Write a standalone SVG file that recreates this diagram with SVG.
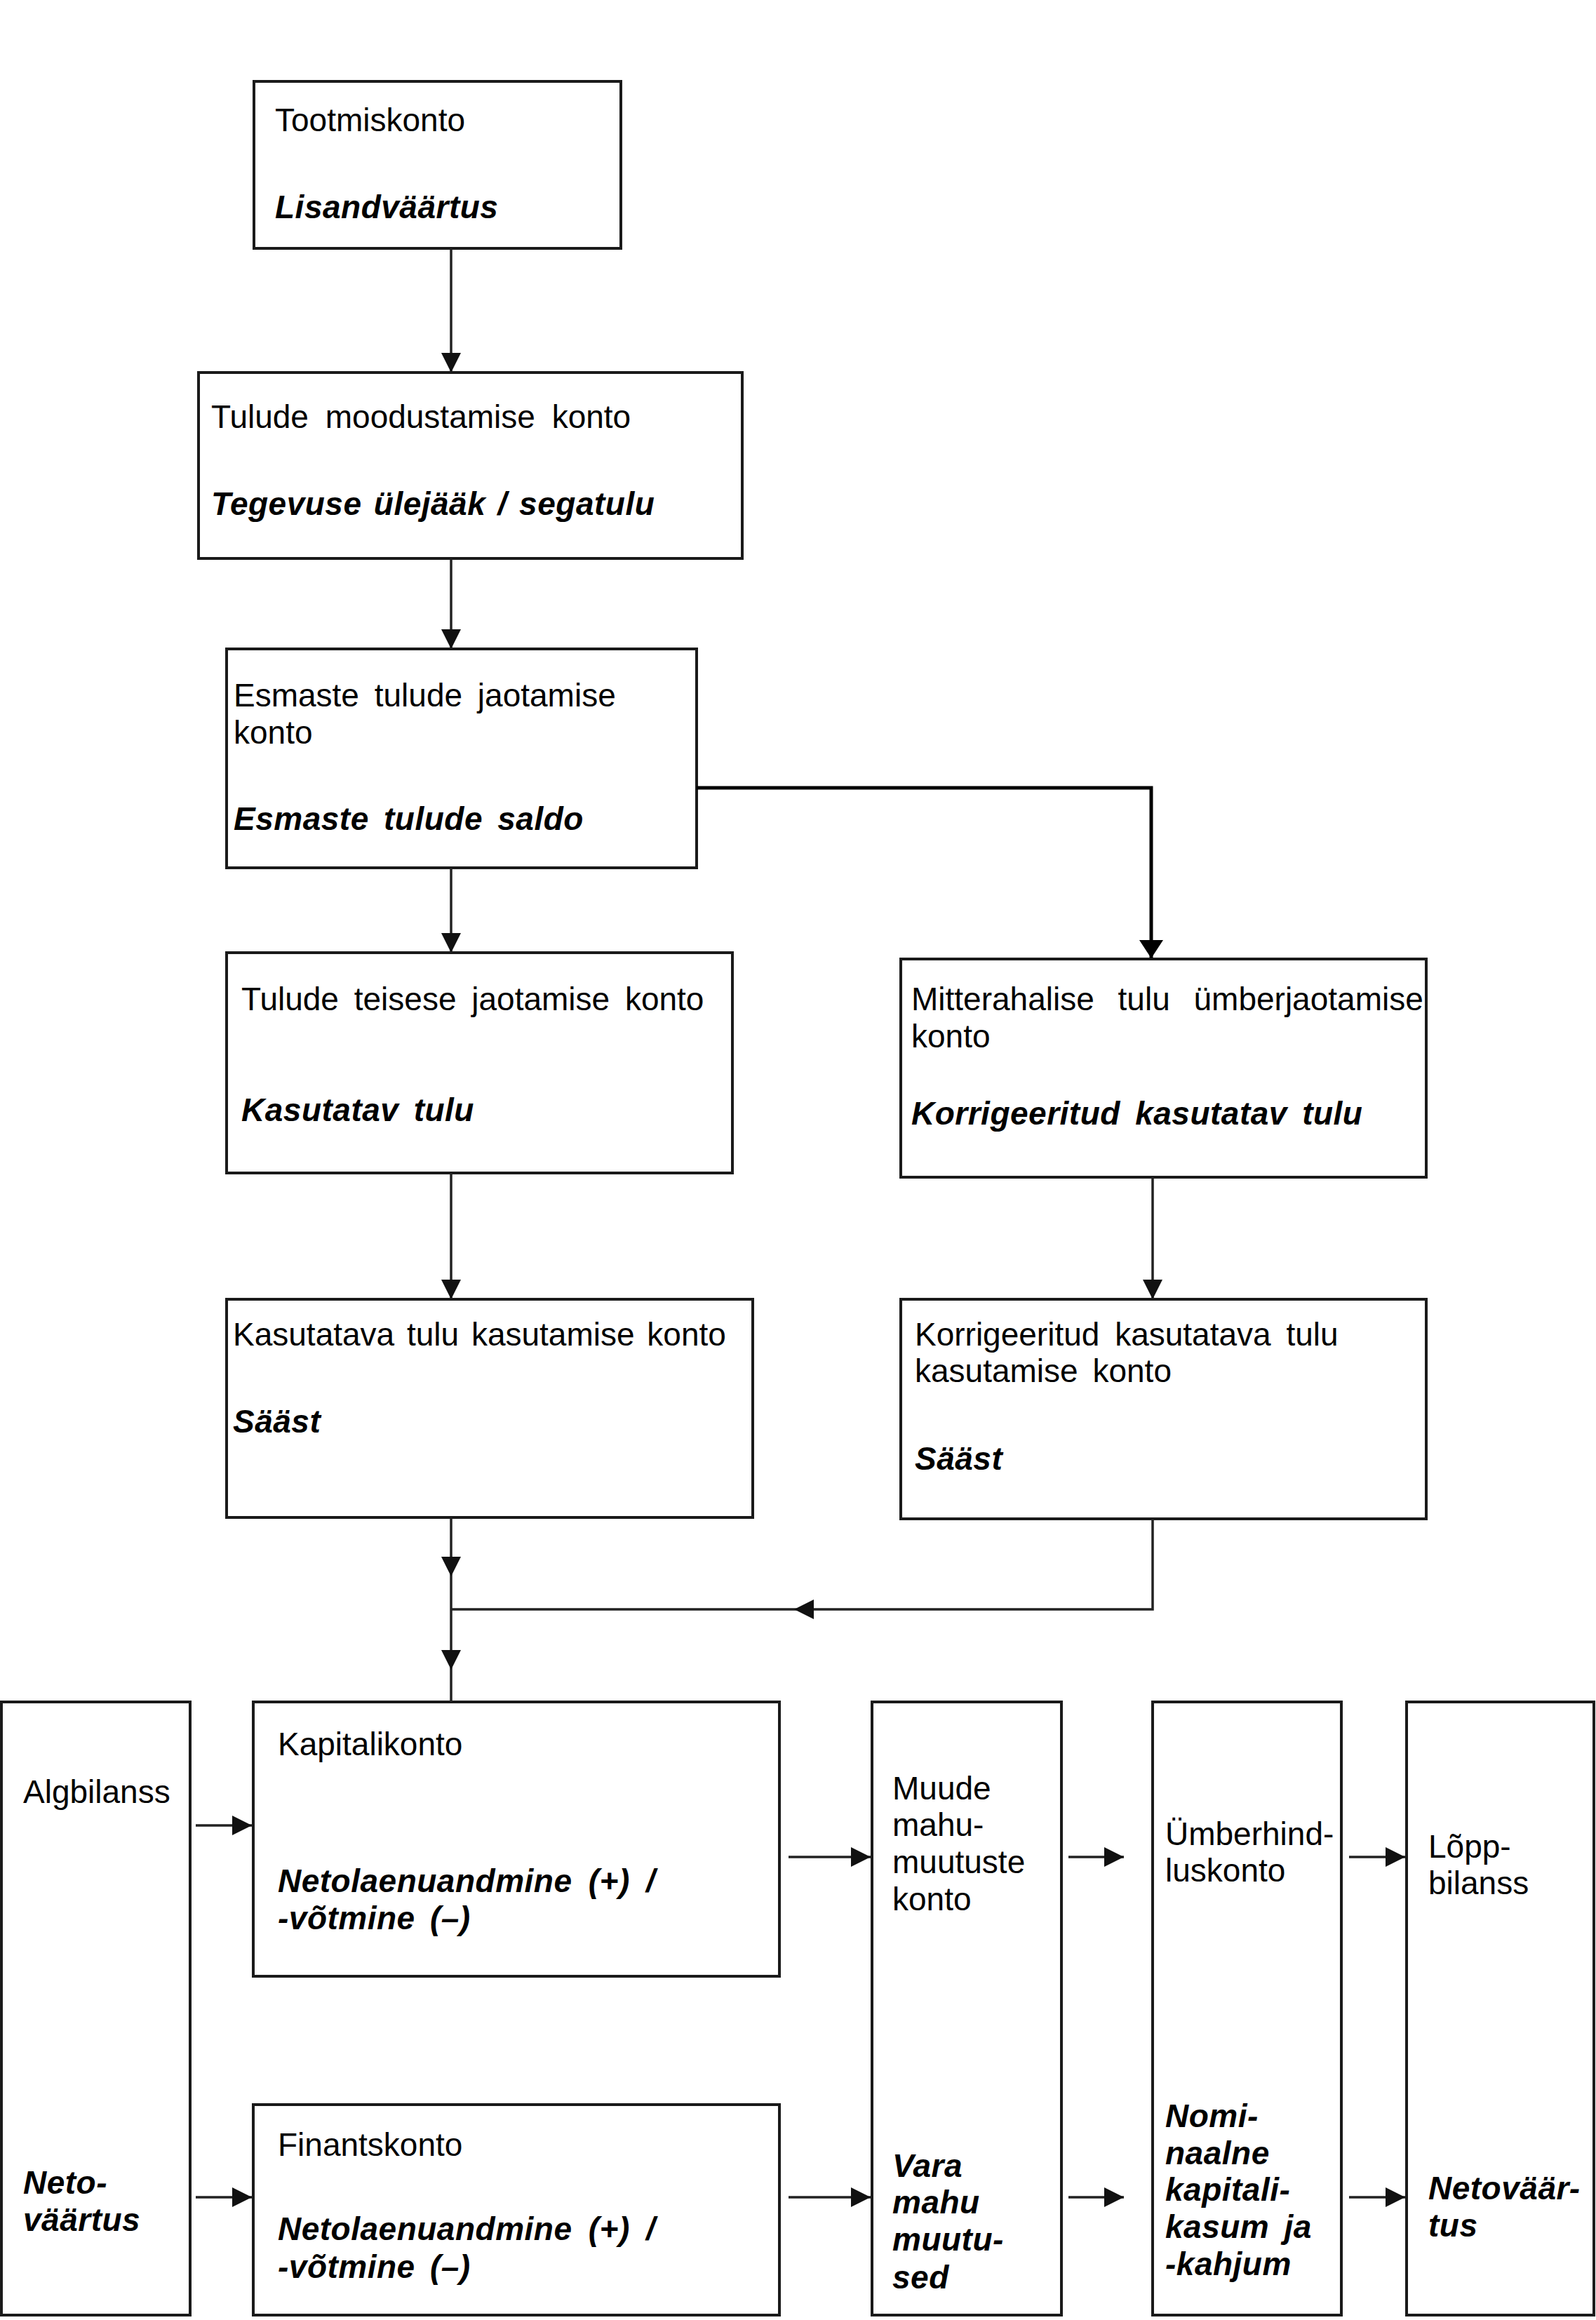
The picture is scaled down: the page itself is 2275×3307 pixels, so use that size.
<svg xmlns="http://www.w3.org/2000/svg" width="2275" height="3307" viewBox="0 0 2275 3307">
<style>
.box{fill:#fff;stroke:#1a1a1a;stroke-width:4}
.t{font-family:"Liberation Sans",Arial,sans-serif;font-size:46px;fill:#000}
.b{font-weight:bold;font-style:italic;letter-spacing:0.5px}
.c{fill:none;stroke:#222;stroke-width:3.5}
.cs{fill:none;stroke:#000;stroke-width:5}
</style>
<defs>
<marker id="ah" markerUnits="userSpaceOnUse" markerWidth="32" markerHeight="30" refX="28" refY="14" orient="auto">
<path d="M0,0 L28,14 L0,28 z" fill="#111"/>
</marker>
<marker id="ahb" markerUnits="userSpaceOnUse" markerWidth="28" markerHeight="36" refX="26" refY="17" orient="auto">
<path d="M0,0 L26,17 L0,34 z" fill="#000"/>
</marker>
</defs>
<rect width="2275" height="3307" fill="#fff"/>

<g id="n1"><rect class="box" x="362" y="116" width="523" height="238"/>
<text class="t" x="392" y="187">Tootmiskonto</text>
<text class="t b" x="392" y="311">Lisandväärtus</text></g>

<g id="n2"><rect class="box" x="283" y="531" width="775" height="265"/>
<text class="t" x="301" y="610" word-spacing="11">Tulude moodustamise konto</text>
<text class="t b" x="301" y="734" word-spacing="4">Tegevuse ülejääk / segatulu</text></g>

<g id="n3"><rect class="box" x="323" y="925" width="670" height="312"/>
<text class="t" x="333" y="1007" word-spacing="9">Esmaste tulude jaotamise</text>
<text class="t" x="333" y="1060">konto</text>
<text class="t b" x="333" y="1183" word-spacing="8">Esmaste tulude saldo</text></g>

<g id="n4"><rect class="box" x="323" y="1358" width="721" height="314"/>
<text class="t" x="344" y="1440" word-spacing="9">Tulude teisese jaotamise konto</text>
<text class="t b" x="344" y="1598" word-spacing="8">Kasutatav tulu</text></g>

<g id="n5"><rect class="box" x="1284" y="1367" width="749" height="311"/>
<text class="t" x="1299" y="1440" word-spacing="21">Mitterahalise tulu ümberjaotamise</text>
<text class="t" x="1299" y="1493">konto</text>
<text class="t b" x="1299" y="1603" word-spacing="8">Korrigeeritud kasutatav tulu</text></g>

<g id="n6"><rect class="box" x="323" y="1852" width="750" height="311"/>
<text class="t" x="332" y="1918" word-spacing="5">Kasutatava tulu kasutamise konto</text>
<text class="t b" x="332" y="2042">Sääst</text></g>

<g id="n7"><rect class="box" x="1284" y="1852" width="749" height="313"/>
<text class="t" x="1304" y="1918" word-spacing="9">Korrigeeritud kasutatava tulu</text>
<text class="t" x="1304" y="1970" word-spacing="8">kasutamise konto</text>
<text class="t b" x="1304" y="2095">Sääst</text></g>

<g id="n8"><rect class="box" x="2" y="2426" width="269" height="874"/>
<text class="t" x="33" y="2570">Algbilanss</text>
<text class="t b" x="33" y="3127">Neto-</text>
<text class="t b" x="33" y="3180">väärtus</text></g>

<g id="n9"><rect class="box" x="361" y="2426" width="750" height="391"/>
<text class="t" x="396" y="2502">Kapitalikonto</text>
<text class="t b" x="396" y="2697" word-spacing="10">Netolaenuandmine (+) /</text>
<text class="t b" x="396" y="2750" word-spacing="8">-võtmine (–)</text></g>

<g id="n10"><rect class="box" x="361" y="3000" width="750" height="300"/>
<text class="t" x="396" y="3073">Finantskonto</text>
<text class="t b" x="396" y="3193" word-spacing="10">Netolaenuandmine (+) /</text>
<text class="t b" x="396" y="3247" word-spacing="8">-võtmine (–)</text></g>

<g id="n11"><rect class="box" x="1243" y="2426" width="270" height="874"/>
<text class="t" x="1272" y="2565">Muude</text>
<text class="t" x="1272" y="2617">mahu-</text>
<text class="t" x="1272" y="2670">muutuste</text>
<text class="t" x="1272" y="2723">konto</text>
<text class="t b" x="1272" y="3103">Vara</text>
<text class="t b" x="1272" y="3155">mahu</text>
<text class="t b" x="1272" y="3208">muutu-</text>
<text class="t b" x="1272" y="3262">sed</text></g>

<g id="n12"><rect class="box" x="1643" y="2426" width="269" height="874"/>
<text class="t" x="1661" y="2630">Ümberhind-</text>
<text class="t" x="1661" y="2682">luskonto</text>
<text class="t b" x="1661" y="3032">Nomi-</text>
<text class="t b" x="1661" y="3085">naalne</text>
<text class="t b" x="1661" y="3137">kapitali-</text>
<text class="t b" x="1661" y="3190" word-spacing="8">kasum ja</text>
<text class="t b" x="1661" y="3243">-kahjum</text></g>

<g id="n13"><rect class="box" x="2005" y="2426" width="267" height="874"/>
<text class="t" x="2036" y="2648">Lõpp-</text>
<text class="t" x="2036" y="2700">bilanss</text>
<text class="t b" x="2036" y="3135">Netoväär-</text>
<text class="t b" x="2036" y="3188">tus</text></g>

<g id="connectors">
<path class="c" d="M643,354 V531" marker-end="url(#ah)"/>
<path class="c" d="M643,796 V925" marker-end="url(#ah)"/>
<path class="cs" d="M993,1123 H1641 V1366" marker-end="url(#ahb)"/>
<path class="c" d="M643,1237 V1358" marker-end="url(#ah)"/>
<path class="c" d="M643,1672 V1852" marker-end="url(#ah)"/>
<path class="c" d="M1643,1678 V1852" marker-end="url(#ah)"/>
<path class="c" d="M643,2163 V2247" marker-end="url(#ah)"/>
<path class="c" d="M643,2247 V2380" marker-end="url(#ah)"/>
<path class="c" d="M643,2380 V2426"/>
<path class="c" d="M1643,2165 V2294 H1132" marker-end="url(#ah)"/>
<path class="c" d="M1132,2294 H643"/>
<path class="c" d="M279,2602 H359" marker-end="url(#ah)"/>
<path class="c" d="M1124,2647 H1241" marker-end="url(#ah)"/>
<path class="c" d="M1523,2647 H1602" marker-end="url(#ah)"/>
<path class="c" d="M1923,2647 H2003" marker-end="url(#ah)"/>
<path class="c" d="M279,3132 H359" marker-end="url(#ah)"/>
<path class="c" d="M1124,3132 H1241" marker-end="url(#ah)"/>
<path class="c" d="M1523,3132 H1602" marker-end="url(#ah)"/>
<path class="c" d="M1923,3132 H2003" marker-end="url(#ah)"/>
</g>
</svg>
